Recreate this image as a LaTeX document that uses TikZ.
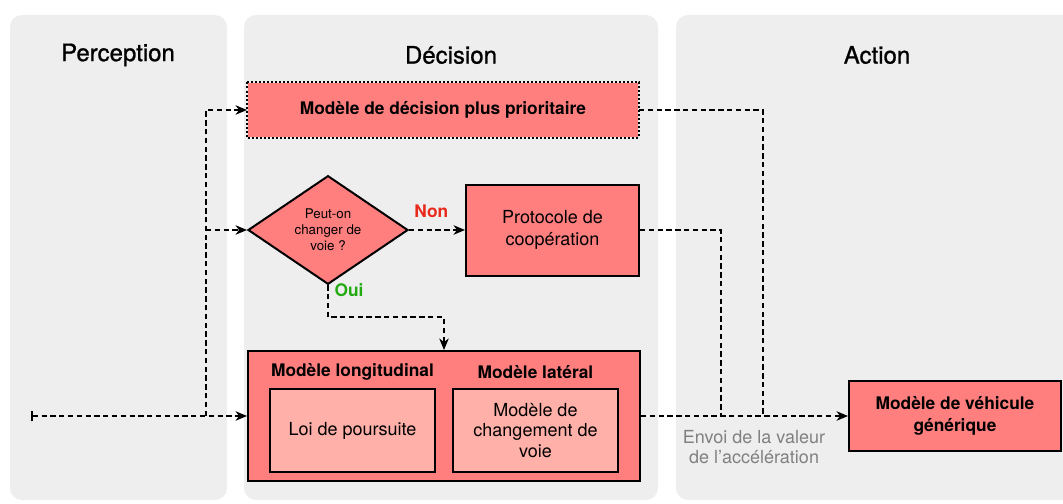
\documentclass[tikz,border=0pt]{standalone}
\usepackage{fontspec}
\setmainfont{TeX Gyre Heros}
\newfontfamily\titlefont{TeX Gyre Heros}[FakeBold=0.9]
\usetikzlibrary{shapes.geometric,arrows.meta}
\definecolor{lanegray}{HTML}{EEEEEE}
\definecolor{boxred}{HTML}{FF7F7F}
\definecolor{innerred}{HTML}{FFB0A8}
\definecolor{nonred}{HTML}{E8291C}
\definecolor{ouigreen}{HTML}{22AA11}

\begin{document}
\begin{tikzpicture}[x=0.75pt, y=-0.75pt,
  >={Stealth[length=8.5pt,width=7pt,inset=2.5pt]},
  lane/.style={fill=lanegray, rounded corners=9pt},
  lanetitle/.style={font=\titlefont\fontsize{18}{22}\selectfont},
  box/.style={draw, line width=1.5pt, fill=boxred, align=center,
    font=\fontsize{13.5}{16.5}\selectfont, inner sep=0pt},
  inbox/.style={box, fill=innerred, minimum width=123.75pt, minimum height=62.25pt},
  boldtxt/.style={font=\fontsize{13}{16.5}\selectfont\bfseries},
  flow/.style={line width=1.7pt, dash pattern=on 4pt off 2.6pt}]
\useasboundingbox (0,0) rectangle (1063,503);
% ---- lanes ----
\begin{scope}
  \clip (0,0) rectangle (1063,503);
  \fill[lane] (10,15) rectangle (227,500);
  \fill[lane] (244,15) rectangle (658,500);
  \fill[lane] (676,15) rectangle (1090,500);
\end{scope}
\node[lanetitle] (tperc) at (118,55) {Perception};
\node[lanetitle] (tdeci) at (451,55) {Décision};
\node[lanetitle] (tact) at (877,55) {Action};
% ---- decision boxes ----
\node[box, boldtxt, draw=none, minimum width=292.5pt, minimum height=39.75pt]
  (prio) at (443,110) {Modèle de décision plus prioritaire};
\draw[line width=1.5pt, dash pattern=on 1.5pt off 1.5pt]
  (prio.north west) rectangle (prio.south east);
\node[box, diamond, minimum width=120pt, minimum height=68pt,
  font=\fontsize{10}{12}\selectfont] (ask) at (328,230)
  {Peut-on\\changer de\\voie ?};
\node[box, minimum width=129.75pt, minimum height=68.25pt]
  (coop) at (552.5,230) {Protocole de\\coopération};
\node[box, minimum width=294pt, minimum height=97.5pt] (models) at (444,416) {};
\node[boldtxt] (tlong) at (352.5,372) {Modèle longitudinal};
\node[boldtxt] (tlat) at (535.5,372) {Modèle latéral};
\node[inbox] (pursuit) at (352.5,430.5) {Loi de poursuite};
\node[inbox, font=\fontsize{13.5}{15.4}\selectfont] (lanechg) at (535.5,430.5)
  {Modèle de\\changement de\\voie};
% ---- action ----
\node[box, boldtxt, minimum width=159pt, minimum height=52.5pt, align=center]
  (vehicle) at (955,416) {Modèle de véhicule\\générique};
% ---- flows ----
\coordinate (start) at (31,416);
\coordinate (split) at (206,416);
\coordinate (mprio) at (763,416);
\coordinate (mcoop) at (721,416);
\draw[flow, {Bar[width=8pt]}->] (start) -- (models.west);
\draw[flow, ->] (split) |- (prio.west);
\draw[flow, ->] (split |- ask.west) -- (ask.west);
\draw[flow, ->] (ask.east) -- (coop.west)
  node[pos=0.4, above=5pt, boldtxt, text=nonred] (non) {Non};
\draw[flow, ->] (ask.south) -- ++(0,32) -| (models.north);
\node[boldtxt, text=ouigreen] (oui) at (349,290) {Oui};
\draw[flow] (prio.east) -| (mprio);
\draw[flow] (coop.east) -| (mcoop);
\draw[flow, ->] (models.east) -- (vehicle.west);
\node[align=center, text=gray, font=\fontsize{13.5}{15}\selectfont]
  (sendacc) at (754,447) {Envoi de la valeur\\de l’accélération};
\end{tikzpicture}
\end{document}
